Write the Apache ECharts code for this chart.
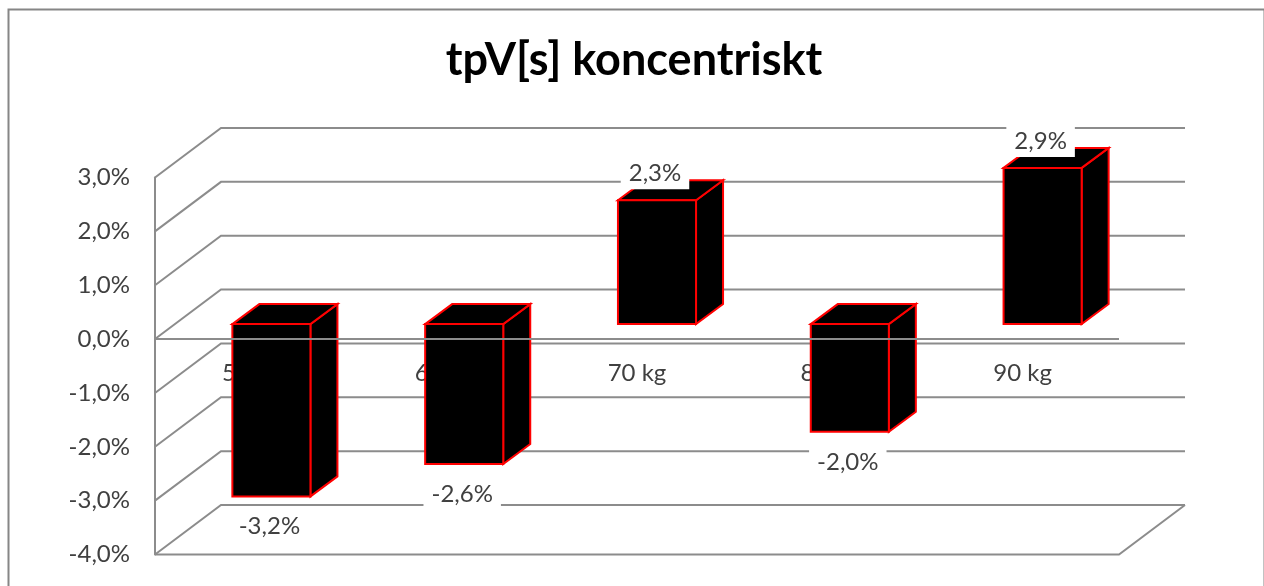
<!DOCTYPE html>
<html>
<head>
<meta charset="utf-8">
<style>
html, body { margin: 0; padding: 0; background: #fff; }
#graph { width: 1264px; height: 586px; }
</style>
<script src="https://cdn.jsdelivr.net/npm/echarts@6/dist/echarts.min.js"></script>
</head>
<body>
<div id="graph"></div>
<script>
"use strict"

const categories = ["50 kg", "60 kg", "70 kg", "80 kg", "90 kg"];
const values = [-3.2, -2.6, 2.3, -2.0, 2.9];
const tickValues = [3, 2, 1, 0, -1, -2, -3, -4];

// 3D look: how far the back wall and the bars are pushed from the front plane
const wallDx = 66, wallDy = -49.5;
const barDx = 20, barDy = -15;
const depthDx = 27, depthDy = -20;

const gray = "#8c8c8c";
const textGray = "#404040";
const fontName = "Lato";

const pct = val => val.toFixed(1).replace(".", ",") + "%";

function renderWall(params, api)
{
    const cs = params.coordSys;
    const y = api.coord([0, api.value(1)])[1];
    const style = { stroke: gray, lineWidth: 2, fill: null };
    const left = cs.x, right = cs.x + cs.width;
    const children = [
        { type: "polyline", shape: { points: [[left, y], [left + wallDx, y + wallDy], [right + wallDx, y + wallDy]] }, style: style }
    ];
    if (api.value(1) === tickValues[tickValues.length - 1])
    {
        children.push({ type: "polyline", shape: { points: [[left, y], [right, y], [right + wallDx, y + wallDy]] }, style: style });
    }
    return { type: "group", children: children };
}

function renderBar(params, api)
{
    const band = api.size([1, 0])[0];
    const w = band * 0.405;
    const cx = api.coord([api.value(0), 0])[0] + barDx;
    const y0 = api.coord([0, 0])[1] + barDy;
    const yv = api.coord([0, api.value(1)])[1] + barDy;
    const x1 = cx - w / 2, x2 = cx + w / 2;
    const top = Math.min(y0, yv), bottom = Math.max(y0, yv);
    const style = { fill: "#000", stroke: "#ff0000", lineWidth: 2, lineJoin: "miter" };
    return {
        type: "group",
        children: [
            { type: "polygon", shape: { points: [[x2, top], [x2 + depthDx, top + depthDy], [x2 + depthDx, bottom + depthDy], [x2, bottom]] }, style: style },
            { type: "polygon", shape: { points: [[x1, top], [x1 + depthDx, top + depthDy], [x2 + depthDx, top + depthDy], [x2, top]] }, style: style },
            { type: "rect", shape: { x: x1, y: top, width: w, height: bottom - top }, style: style }
        ]
    };
}

function renderZeroLine(params, api)
{
    const cs = params.coordSys;
    const y = api.coord([0, 0])[1];
    return {
        type: "line",
        shape: { x1: cs.x, y1: y, x2: cs.x + cs.width, y2: y },
        style: { stroke: gray, lineWidth: 2 }
    };
}

function renderValueLabel(params, api)
{
    const val = api.value(1);
    const pos = api.coord([api.value(0), val]);
    return {
        type: "text",
        style: {
            x: pos[0] + barDx - 2,
            y: pos[1] + barDy + (val < 0 ? 30 : -27),
            text: pct(val),
            align: "center",
            verticalAlign: "middle",
            fill: textGray,
            font: "24px " + fontName,
            backgroundColor: "#fff",
            padding: [4, 8, 4, 8]
        }
    };
}

const option = {
    animation: false,
    backgroundColor: "#fff",
    title: {
        text: "tpV[s] koncentriskt",
        left: 629,
        top: 33,
        textAlign: "center",
        textStyle: { fontFamily: fontName, fontWeight: "bold", fontSize: 45, color: "#000" }
    },
    graphic: [{
        type: "rect",
        left: 6,
        top: 7,
        shape: { width: 1256, height: 620 },
        style: { fill: null, stroke: "#868686", lineWidth: 2 },
        silent: true
    }],
    grid: { left: 155, right: 145, top: 177.5, bottom: 31.5, outerBoundsMode: "none" },
    xAxis: {
        type: "category",
        data: categories,
        offset: -215,   // labels sit under the zero line, bars hide parts of them
        axisLine: { show: false, onZero: false },
        axisTick: { show: false },
        axisLabel: { color: textGray, fontFamily: fontName, fontSize: 24, margin: 22 },
        z: 0
    },
    yAxis: {
        type: "value",
        min: -4,
        max: 3,
        interval: 1,
        axisLine: { show: true, lineStyle: { color: gray, width: 2 } },
        axisTick: { show: false },
        splitLine: { show: false },
        axisLabel: { color: textGray, fontFamily: fontName, fontSize: 24, margin: 25, formatter: pct }
    },
    series: [
        { type: "custom", name: "wall", z: 1, silent: true, renderItem: renderWall, data: tickValues.map(t => [0, t]), clip: false },
        { type: "custom", name: "bars", z: 2, renderItem: renderBar, data: values.map((v, i) => [i, v]), clip: false },
        { type: "custom", name: "zero", z: 3, silent: true, renderItem: renderZeroLine, data: [[0, 0]], clip: false },
        { type: "custom", name: "labels", z: 4, silent: true, renderItem: renderValueLabel, data: values.map((v, i) => [i, v]), clip: false }
    ]
};

const myChart = echarts.init(document.getElementById("graph"), null, { renderer: "canvas" });
myChart.setOption(option);
</script>
</body>
</html>
